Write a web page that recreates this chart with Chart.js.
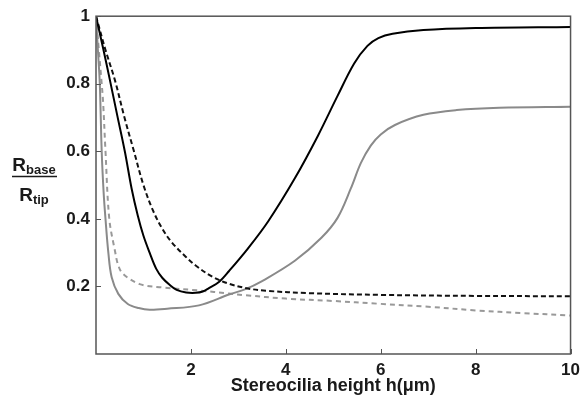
<!DOCTYPE html>
<html>
<head>
<meta charset="utf-8">
<script src="https://cdn.jsdelivr.net/npm/chart.js@4/dist/chart.umd.min.js"></script>
<style>
  html, body { margin: 0; padding: 0; background: #fff; }
  canvas { display: block; }
</style>
</head>
<body>
<canvas id="c" width="586" height="399"></canvas>
<script>
// ---- Data ----
const xTicks = [2, 4, 6, 8, 10];
const yTicks = [0.2, 0.4, 0.6, 0.8, 1];
const xTitle = 'Stereocilia height h(\u03bcm)';

const blackSolidX = [0, 0.15, 0.29, 0.45, 0.61, 0.75, 0.88, 1.0, 1.13, 1.27, 1.4, 1.55, 1.7, 1.9, 2.1, 2.25, 2.38, 2.59, 2.8, 3.2, 3.63, 4.19, 4.68, 5.09, 5.44, 5.72, 5.95, 6.25, 6.9, 8, 10];
const blackSolidY = [1, 0.905, 0.813, 0.705, 0.598, 0.49, 0.41, 0.35, 0.3, 0.252, 0.225, 0.205, 0.19, 0.182, 0.181, 0.185, 0.195, 0.213, 0.245, 0.312, 0.393, 0.52, 0.647, 0.764, 0.86, 0.912, 0.935, 0.948, 0.959, 0.965, 0.968];

const blackDashX = [0, 0.2, 0.4, 0.6, 0.8, 1.0, 1.2, 1.4, 1.6, 1.89, 2.1, 2.45, 2.8, 3.2, 3.6, 4.5, 6, 8, 10];
const blackDashY = [1, 0.9, 0.81, 0.7, 0.6, 0.5, 0.425, 0.37, 0.33, 0.288, 0.262, 0.229, 0.208, 0.194, 0.187, 0.18, 0.175, 0.172, 0.171];

const graySolidX = [0, 0.04, 0.08, 0.12, 0.16, 0.2, 0.26, 0.33, 0.47, 0.67, 0.9, 1.13, 1.5, 2.17, 2.8, 3.15, 3.49, 4.19, 4.75, 5.09, 5.37, 5.58, 5.79, 6.0, 6.3, 6.9, 7.6, 8.5, 10];
const graySolidY = [1, 0.9, 0.8, 0.6, 0.48, 0.4, 0.3, 0.227, 0.178, 0.148, 0.136, 0.131, 0.134, 0.144, 0.176, 0.192, 0.215, 0.276, 0.344, 0.403, 0.49, 0.565, 0.617, 0.65, 0.678, 0.708, 0.722, 0.729, 0.732];

const grayDashX = [0, 0.06, 0.12, 0.15, 0.2, 0.28, 0.4, 0.47, 0.57, 0.92, 1.4, 2.17, 2.8, 3.15, 4, 5, 5.93, 7, 8, 9, 10];
const grayDashY = [1, 0.9, 0.8, 0.745, 0.6, 0.4, 0.305, 0.262, 0.237, 0.207, 0.197, 0.188, 0.179, 0.174, 0.164, 0.157, 0.149, 0.14, 0.129, 0.121, 0.114];

function pts(xs, ys) { return xs.map((x, i) => ({ x: x, y: ys[i] })); }

const FONT = '"Liberation Sans", Arial, Helvetica, sans-serif';
const TEXT = '#1a1a1a';
const FRAME = '#555555';

const framePlugin = {
  id: 'frame',
  afterDraw(chart) {
    const ctx = chart.ctx;
    const a = chart.chartArea;
    const xs = chart.scales.x, ys = chart.scales.y;
    ctx.save();
    ctx.strokeStyle = FRAME;
    ctx.lineWidth = 1.5;
    ctx.strokeRect(a.left, a.top, a.right - a.left, a.bottom - a.top);
    ctx.lineWidth = 1;
    ctx.beginPath();
    xTicks.forEach(v => {
      const px = Math.round(xs.getPixelForValue(v)) + 0.5;
      ctx.moveTo(px, a.bottom);
      ctx.lineTo(px, a.bottom - 5);
    });
    yTicks.forEach(v => {
      const py = Math.round(ys.getPixelForValue(v)) + 0.5;
      ctx.moveTo(a.left, py);
      ctx.lineTo(a.left + 5, py);
    });
    ctx.stroke();

    // y-axis title: R_base / R_tip as a fraction
    ctx.fillStyle = TEXT;
    ctx.textBaseline = 'alphabetic';
    ctx.textAlign = 'left';
    const big = 'bold 19px ' + FONT, small = 'bold 13px ' + FONT;
    ctx.font = big;
    const wR = ctx.measureText('R').width;
    ctx.font = small;
    const wBase = ctx.measureText('base').width;
    const wTip = ctx.measureText('tip').width;
    const cx = 34;
    let x0 = cx - (wR + wBase) / 2;
    ctx.font = big; ctx.fillText('R', x0, 171);
    ctx.font = small; ctx.fillText('base', x0 + wR, 174);
    x0 = cx - (wR + wTip) / 2;
    ctx.font = big; ctx.fillText('R', x0, 201);
    ctx.font = small; ctx.fillText('tip', x0 + wR, 204);
    ctx.strokeStyle = TEXT;
    ctx.lineWidth = 1.5;
    ctx.beginPath();
    ctx.moveTo(12, 176.5);
    ctx.lineTo(57, 176.5);
    ctx.stroke();
    ctx.restore();
  }
};

new Chart(document.getElementById('c'), {
  type: 'scatter',
  data: {
    datasets: [
      { data: pts(blackSolidX, blackSolidY), borderColor: '#000000', borderWidth: 2 },
      { data: pts(blackDashX, blackDashY), borderColor: '#111111', borderWidth: 2, borderDash: [5, 3] },
      { data: pts(graySolidX, graySolidY), borderColor: '#8a8a8a', borderWidth: 2 },
      { data: pts(grayDashX, grayDashY), borderColor: '#999999', borderWidth: 2, borderDash: [5, 4] }
    ].map(d => Object.assign(d, { showLine: true, pointRadius: 0, fill: false, tension: 0.35 }))
  },
  options: {
    responsive: false,
    animation: false,
    devicePixelRatio: 1,
    layout: { padding: { left: 0, right: 11, top: 13, bottom: 0 } },
    plugins: { legend: { display: false }, tooltip: { enabled: false } },
    scales: {
      x: {
        type: 'linear', min: 0, max: 10,
        afterBuildTicks: s => { s.ticks = [0].concat(xTicks).map(v => ({ value: v })); },
        afterFit: s => { s.height = 45; },
        grid: { display: false, drawTicks: false },
        border: { display: false },
        ticks: {
          padding: 6, color: TEXT, maxRotation: 0,
          font: { family: FONT, size: 17, weight: 'bold' },
          callback: v => (v === 0 ? '' : String(v))
        },
        title: {
          display: true, text: xTitle, color: TEXT,
          font: { family: FONT, size: 18, weight: 'bold' },
          padding: { top: 0, bottom: 2 }
        }
      },
      y: {
        type: 'linear', min: 0, max: 1,
        afterBuildTicks: s => { s.ticks = [0].concat(yTicks).map(v => ({ value: v })); },
        afterFit: s => { s.width = 96; },
        grid: { display: false, drawTicks: false },
        border: { display: false },
        ticks: {
          padding: 6, color: TEXT,
          font: { family: FONT, size: 17, weight: 'bold' },
          callback: v => (v === 0 ? '' : String(v))
        }
      }
    }
  },
  plugins: [framePlugin]
});
</script>
</body>
</html>
